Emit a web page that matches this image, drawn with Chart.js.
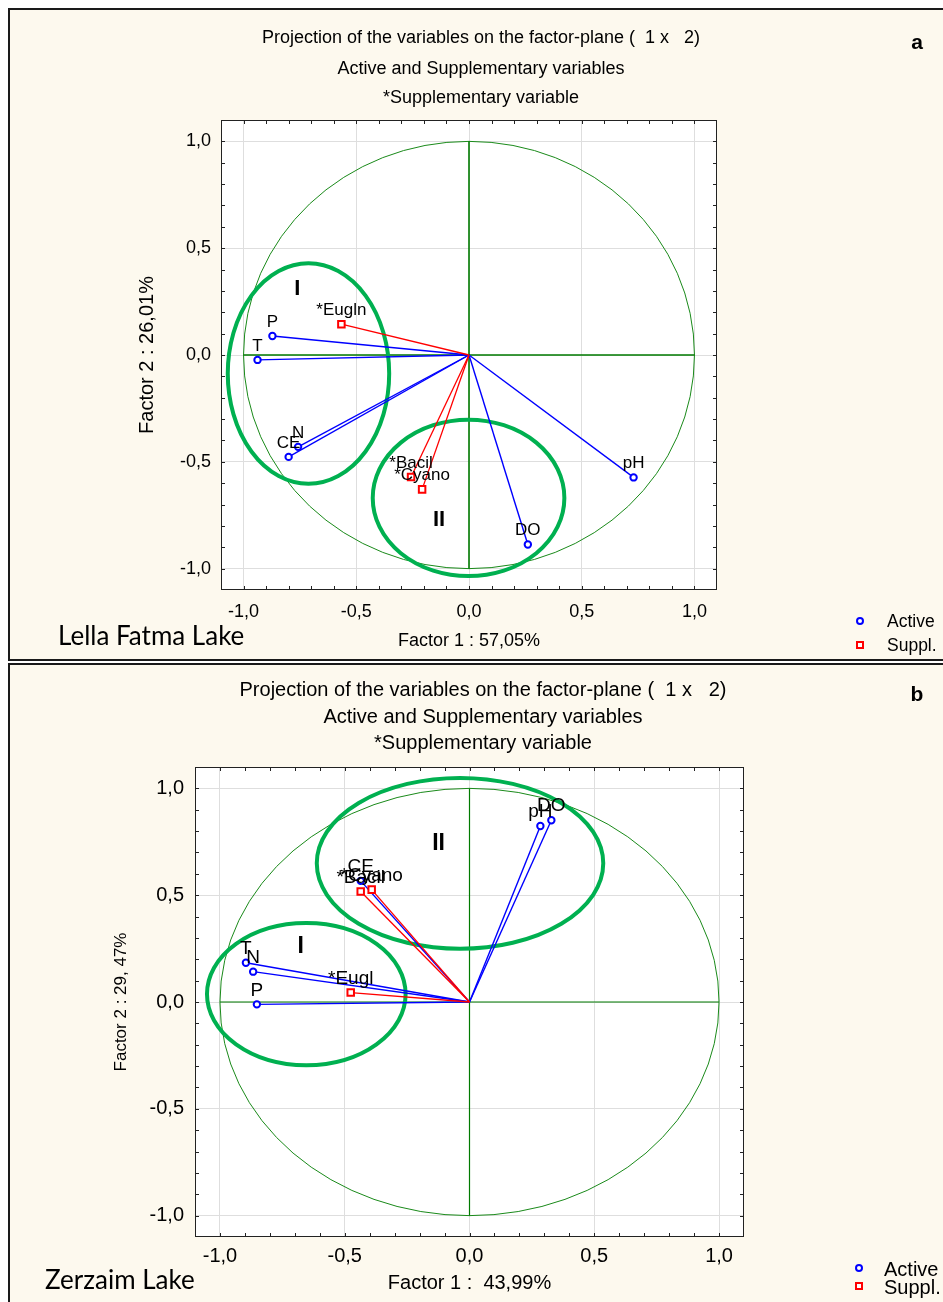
<!DOCTYPE html>
<html><head><meta charset="utf-8">
<script src="https://cdn.jsdelivr.net/npm/chart.js@4.4.1/dist/chart.umd.min.js"></script>
<style>
html,body{margin:0;padding:0;width:943px;height:1302px;overflow:hidden;background:#fff;font-family:"Liberation Sans",Arial,sans-serif;}
.panel{position:absolute;box-sizing:border-box;background:#fdf9ee;border-left:2px solid #1a1a1a;border-top:2px solid #1a1a1a;}
#pA{left:8px;top:8px;width:950px;height:653px;border-bottom:2px solid #1a1a1a;}
#pB{left:8px;top:663px;width:950px;height:660px;}
canvas{position:absolute;left:0;}
.t{position:absolute;white-space:pre;transform:translate(-50%,-50%);color:#000;line-height:1;}
.l{position:absolute;white-space:pre;transform:translate(0,-50%);color:#000;line-height:1;}
.lake{font-family:Lato,"Open Sans",sans-serif;}
.mc{position:absolute;box-sizing:border-box;width:8px;height:8px;border:2px solid #0000ff;border-radius:50%;background:#fff;transform:translate(-50%,-50%);}
.ms{position:absolute;box-sizing:border-box;width:8px;height:8px;border:2px solid #ff0000;background:#fff;transform:translate(-50%,-50%);}
</style>
</head>
<body>
<div class="panel" id="pA"></div>
<div class="panel" id="pB"></div>
<canvas id="cA" width="943" height="660" style="top:0px;width:943px;height:660px"></canvas>
<canvas id="cB" width="943" height="639" style="top:663px;width:943px;height:639px"></canvas>

<div class="t" style="left:481px;top:37px;font-size:18px">Projection of the variables on the factor-plane (  1 x   2)</div>
<div class="t" style="left:481px;top:68px;font-size:18px">Active and Supplementary variables</div>
<div class="t" style="left:481px;top:97px;font-size:18px">*Supplementary variable</div>
<div class="t" style="left:917px;top:41px;font-size:21px;font-weight:bold">a</div>
<div class="l lake" style="left:58px;top:635px;font-size:26px">Lella Fatma Lake</div>
<div class="mc" style="left:860px;top:621px"></div>
<div class="l" style="left:887px;top:622px;font-size:17.5px">Active</div>
<div class="ms" style="left:860px;top:645px"></div>
<div class="l" style="left:887px;top:646px;font-size:17.5px">Suppl.</div>

<div class="t" style="left:483px;top:689px;font-size:20px">Projection of the variables on the factor-plane (  1 x   2)</div>
<div class="t" style="left:483px;top:716px;font-size:20px">Active and Supplementary variables</div>
<div class="t" style="left:483px;top:742px;font-size:20px">*Supplementary variable</div>
<div class="t" style="left:917px;top:693px;font-size:21px;font-weight:bold">b</div>
<div class="l lake" style="left:45px;top:1279px;font-size:26px">Zerzaim Lake</div>
<div class="mc" style="left:859px;top:1268px"></div>
<div class="l" style="left:884px;top:1269px;font-size:20px">Active</div>
<div class="ms" style="left:859px;top:1286px"></div>
<div class="l" style="left:884px;top:1287px;font-size:20px">Suppl.</div>

<script>
// ---------- shared axis ticks ----------
const tickValues = [-1, -0.5, 0, 0.5, 1];
const tickLabels = ["-1,0", "-0,5", "0,0", "0,5", "1,0"];

// ---------- (a) Lella Fatma Lake ----------
const activeNamesA = ["P", "T", "N", "CE", "pH", "DO"];
const activeXA = [-0.872, -0.938, -0.758, -0.800, 0.730, 0.261];
const activeYA = [0.089, -0.023, -0.430, -0.477, -0.573, -0.887];
const supplNamesA = ["*Eugln", "*Bacil", "*Cyano"];
const supplXA = [-0.566, -0.257, -0.208];
const supplYA = [0.144, -0.571, -0.629];
const groupNamesA = ["I", "II"];
const groupCXA = [-0.712, -0.002];
const groupCYA = [-0.087, -0.669];
const groupRXA = [0.358, 0.425];
const groupRYA = [0.516, 0.366];
const groupLabelXA = [-0.761, -0.133];
const groupLabelYA = [0.31, -0.77];
const xTitleA = "Factor 1 : 57,05%";
const yTitleA = "Factor 2 : 26,01%";

// ---------- (b) Zerzaim Lake ----------
const activeNamesB = ["T", "N", "P", "CE", "pH", "DO"];
const activeXB = [-0.896, -0.867, -0.852, -0.436, 0.284, 0.328];
const activeYB = [0.184, 0.142, -0.011, 0.567, 0.824, 0.851];
const supplNamesB = ["*Eugl", "*Bacil", "*Cyano"];
const supplXB = [-0.476, -0.436, -0.392];
const supplYB = [0.044, 0.517, 0.526];
const groupNamesB = ["I", "II"];
const groupCXB = [-0.654, -0.038];
const groupCYB = [0.037, 0.649];
const groupRXB = [0.398, 0.574];
const groupRYB = [0.333, 0.400];
const groupLabelXB = [-0.676, -0.124];
const groupLabelYB = [0.258, 0.74];
const xTitleB = "Factor 1 :  43,99%";
const yTitleB = "Factor 2 : 29, 47%";

const FAM = "'Liberation Sans', Arial, sans-serif";

function buildChart(id, o) {
  const datasets = [];
  o.activeX.forEach((x, i) => datasets.push({
    data: [{x: 0, y: 0}, {x: x, y: o.activeY[i]}], showLine: true,
    borderColor: '#0000ff', borderWidth: 1.4, pointRadius: 0, order: 3
  }));
  o.supplX.forEach((x, i) => datasets.push({
    data: [{x: 0, y: 0}, {x: x, y: o.supplY[i]}], showLine: true,
    borderColor: '#ff0000', borderWidth: 1.3, pointRadius: 0, order: 2
  }));
  datasets.push({
    label: 'Active', names: o.activeNames,
    data: o.activeX.map((x, i) => ({x: x, y: o.activeY[i]})),
    pointStyle: 'circle', pointRadius: 3.2, borderWidth: 2,
    borderColor: '#0000ff', backgroundColor: '#ffffff', order: 1
  });
  datasets.push({
    label: 'Suppl.', names: o.supplNames,
    data: o.supplX.map((x, i) => ({x: x, y: o.supplY[i]})),
    pointStyle: 'rect', pointRadius: 4.6, borderWidth: 2,
    borderColor: '#ff0000', backgroundColor: '#ffffff', order: 0
  });

  const decor = {
    id: 'decor' + id,
    beforeDraw(chart) {
      const a = chart.chartArea, c = chart.ctx;
      c.save(); c.fillStyle = '#ffffff';
      c.fillRect(a.left, a.top, a.right - a.left, a.bottom - a.top);
      c.restore();
    },
    beforeDatasetsDraw(chart) {
      const a = chart.chartArea, c = chart.ctx, xs = chart.scales.x, ys = chart.scales.y;
      const px0 = xs.getPixelForValue(0), py0 = ys.getPixelForValue(0);
      c.save();
      // unit circle
      c.strokeStyle = '#1a8a1a'; c.lineWidth = 1;
      c.beginPath();
      c.ellipse(px0, py0, xs.getPixelForValue(1) - px0, py0 - ys.getPixelForValue(1), 0, 0, Math.PI * 2);
      c.stroke();
      // factor axes
      c.strokeStyle = '#007a00'; c.lineWidth = o.axisWidth;
      c.beginPath();
      c.moveTo(xs.getPixelForValue(-1), py0); c.lineTo(xs.getPixelForValue(1), py0);
      c.moveTo(px0, ys.getPixelForValue(1)); c.lineTo(px0, ys.getPixelForValue(-1));
      c.stroke();
      // group ellipses
      c.strokeStyle = '#00b050'; c.lineWidth = 4;
      o.groupCX.forEach((cx, i) => {
        const ex = xs.getPixelForValue(cx), ey = ys.getPixelForValue(o.groupCY[i]);
        const rx = xs.getPixelForValue(cx + o.groupRX[i]) - ex;
        const ry = ey - ys.getPixelForValue(o.groupCY[i] + o.groupRY[i]);
        c.beginPath(); c.ellipse(ex, ey, rx, ry, 0, 0, Math.PI * 2); c.stroke();
      });
      // frame and inward minor ticks
      c.strokeStyle = '#222'; c.lineWidth = 1;
      c.strokeRect(a.left + 0.5, a.top + 0.5, a.right - a.left - 1, a.bottom - a.top - 1);
      c.beginPath();
      for (let k = -10; k <= 10; k++) {
        const v = k / 10;
        const px = Math.round(xs.getPixelForValue(v)) + 0.5;
        const py = Math.round(ys.getPixelForValue(v)) + 0.5;
        c.moveTo(px, a.top); c.lineTo(px, a.top + 4);
        c.moveTo(px, a.bottom); c.lineTo(px, a.bottom - 4);
        c.moveTo(a.left, py); c.lineTo(a.left + 4, py);
        c.moveTo(a.right, py); c.lineTo(a.right - 4, py);
      }
      c.stroke();
      c.restore();
    },
    afterDatasetsDraw(chart) {
      const c = chart.ctx, xs = chart.scales.x, ys = chart.scales.y;
      c.save();
      c.fillStyle = '#000'; c.textAlign = 'center'; c.textBaseline = 'middle';
      c.font = o.labelSize + 'px ' + FAM;
      chart.data.datasets.forEach((ds, di) => {
        if (!ds.names) return;
        const meta = chart.getDatasetMeta(di);
        meta.data.forEach((pt, i) => c.fillText(ds.names[i], pt.x, pt.y - 14));
      });
      c.font = 'bold ' + o.groupSize + 'px ' + FAM;
      o.groupNames.forEach((n, i) => c.fillText(n, xs.getPixelForValue(o.groupLabelX[i]), ys.getPixelForValue(o.groupLabelY[i])));
      c.restore();
    }
  };

  const tickCb = v => { const i = tickValues.indexOf(Math.round(v * 10) / 10); return i >= 0 ? tickLabels[i] : ''; };

  return new Chart(document.getElementById(id), {
    type: 'scatter',
    data: {datasets: datasets},
    options: {
      responsive: false, animation: false, events: [],
      layout: {padding: o.padding},
      plugins: {legend: {display: false}, tooltip: {enabled: false}, title: {display: false}},
      scales: {
        x: {
          type: 'linear', min: -1.1, max: 1.1, position: 'bottom',
          afterBuildTicks: s => { s.ticks = tickValues.map(v => ({value: v})); },
          afterFit: s => { s.height = o.xAxisHeight; },
          ticks: {callback: tickCb, font: {family: FAM, size: o.tickSize}, color: '#000', padding: o.xTickPad, maxRotation: 0, autoSkip: false},
          grid: {color: '#dedede', drawTicks: false, tickLength: 0, lineWidth: 1},
          border: {display: false},
          title: {display: true, text: o.xTitle, color: '#000', font: {family: FAM, size: o.xTitleSize}, padding: {top: 0, bottom: 0}}
        },
        y: {
          type: 'linear', min: -1.1, max: 1.1, position: 'left',
          afterBuildTicks: s => { s.ticks = tickValues.map(v => ({value: v})); },
          afterFit: s => { s.width = o.yAxisWidth; },
          ticks: {callback: tickCb, font: {family: FAM, size: o.tickSize}, color: '#000', padding: o.yTickPad, autoSkip: false},
          grid: {color: '#dedede', drawTicks: false, tickLength: 0, lineWidth: 1},
          border: {display: false},
          title: {display: true, text: o.yTitle, color: '#000', font: {family: FAM, size: o.yTitleSize}, padding: {top: o.yTitlePad, bottom: 0}}
        }
      }
    },
    plugins: [decor]
  });
}

buildChart('cA', {
  activeNames: activeNamesA, activeX: activeXA, activeY: activeYA,
  supplNames: supplNamesA, supplX: supplXA, supplY: supplYA,
  groupNames: groupNamesA, groupCX: groupCXA, groupCY: groupCYA, groupRX: groupRXA, groupRY: groupRYA,
  groupLabelX: groupLabelXA, groupLabelY: groupLabelYA,
  xTitle: xTitleA, yTitle: yTitleA,
  padding: {left: 130, top: 120, right: 226, bottom: 8},
  yAxisWidth: 91, xAxisHeight: 62, xTickPad: 11, yTickPad: 10,
  tickSize: 18, xTitleSize: 18, yTitleSize: 20, yTitlePad: 5,
  labelSize: 17, groupSize: 22, axisWidth: 1.6
});

buildChart('cB', {
  activeNames: activeNamesB, activeX: activeXB, activeY: activeYB,
  supplNames: supplNamesB, supplX: supplXB, supplY: supplYB,
  groupNames: groupNamesB, groupCX: groupCXB, groupCY: groupCYB, groupRX: groupRXB, groupRY: groupRYB,
  groupLabelX: groupLabelXB, groupLabelY: groupLabelYB,
  xTitle: xTitleB, yTitle: yTitleB,
  padding: {left: 105, top: 104, right: 199, bottom: 7},
  yAxisWidth: 90, xAxisHeight: 58, xTickPad: 7, yTickPad: 11,
  tickSize: 20, xTitleSize: 20, yTitleSize: 17, yTitlePad: 6,
  labelSize: 19, groupSize: 23, axisWidth: 1.2
});
</script>
</body></html>
